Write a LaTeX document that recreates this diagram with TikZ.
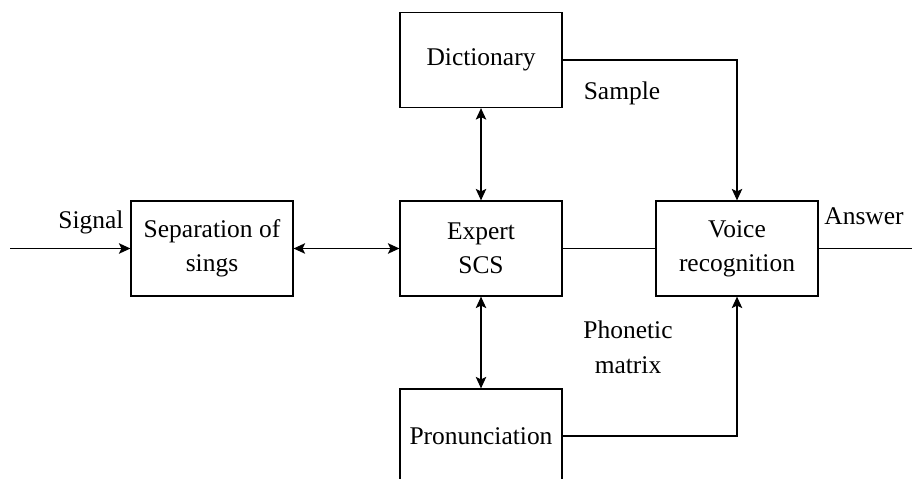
\documentclass[tikz,border=0pt]{standalone}
\usepackage{fontspec}
\setmainfont{Liberation Serif}
\usetikzlibrary{arrows.meta,positioning}

\begin{document}
\begin{tikzpicture}[x=0.02cm,y=-0.02cm,
  every node/.style={font=\fontsize{14.5}{19.5}\selectfont},
  block/.style={draw,line width=0.7pt,minimum width=3.24cm,minimum height=1.9cm,align=center,inner sep=0pt},
  link/.style={line width=0.7pt},
  tip/.style={-{Stealth[length=2.3mm,width=2.1mm,inset=0.5mm]}},
  tips/.style={{Stealth[length=2.3mm,width=2.1mm,inset=0.5mm]}-{Stealth[length=2.3mm,width=2.1mm,inset=0.5mm]}}]
\useasboundingbox (0,0) rectangle (912,479);
\begin{scope}
\clip (0,0) rectangle (912,479);
\node[block] (dict) at (481,60) {Dictionary};
\node[block] (sep) at (212,248.5) {Separation of\\sings};
\node[block] (exp) at (481,248.5) {Expert\\SCS};
\node[block] (voice) at (737,248.5) {Voice\\recognition};
\node[block,minimum height=1.88cm] (pron) at (481,436) {Pronunciation};
\coordinate (in) at (10,248.5);
\coordinate (out) at (912,248.5);
\draw[link,tip] (in)--(sep);
\draw[link,tips] (sep)--(exp);
\draw[link,tips] (dict)--(exp);
\draw[link,tips] (exp)--(pron);
\draw[link] (exp)--(voice);
\draw[link] (voice)--(out);
\draw[link,tip] (dict.east)-|(voice.north);
\draw[link,tip] (pron.east)-|(voice.south);
\end{scope}
\node[anchor=base] (signal) at (91,229) {Signal};
\node[anchor=base] (answer) at (864,225) {Answer};
\node[anchor=base] (sample) at (622,100) {Sample};
\node[anchor=base,align=center] (phon) at (628,373) {Phonetic\\matrix};
\end{tikzpicture}
\end{document}
